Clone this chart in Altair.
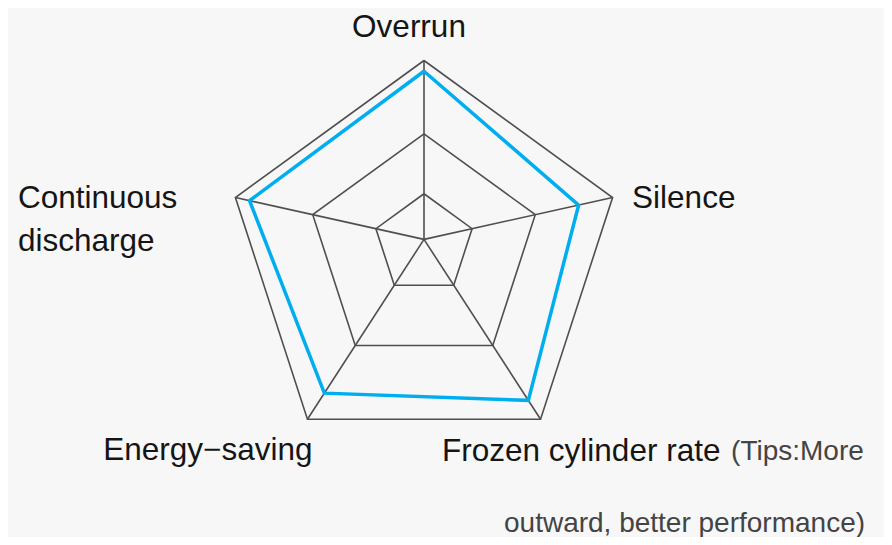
import altair as alt
import numpy as np
import pandas as pd

# ---------------- data ----------------
axis_names = ["Overrun", "Silence", "Frozen cylinder rate", "Energy−saving", "Continuous discharge"]
axis_display = ["Overrun", "Silence", "Frozen cylinder rate", "Energy−saving", "Continuous\ndischarge"]
scores = [94, 82, 89.5, 85.5, 92.5]
grid_levels = [25.5, 59, 100]
max_score = 100
tip_lines = ["(Tips:More", "outward, better performance)"]

# ---------------- layout / style ----------------
W, H = 876, 529
R_PX = 198.3          # outer ring radius in px
CX, CY = 416, 250.8   # centre of outer ring in chart px
HUB = 0.098           # spokes meet slightly above the ring centre

n = len(axis_names)
ang = np.deg2rad(90 - 72 * np.arange(n))
vx, vy = np.cos(ang), np.sin(ang)


def pt(k, v):
    f = v / max_score
    return f * vx[k], HUB + f * (vy[k] - HUB)


rows = []
for lvl in grid_levels:
    for i in range(n + 1):
        k = i % n
        x, y = pt(k, lvl)
        rows.append({"level": str(lvl), "order": i, "x": x, "y": y})
grid_df = pd.DataFrame(rows)

spoke_rows = []
for k in range(n):
    x0, y0 = pt(k, 0)
    x1, y1 = pt(k, max_score)
    spoke_rows.append({"axis": axis_names[k], "x": x0, "y": y0, "x2": x1, "y2": y1})
spoke_df = pd.DataFrame(spoke_rows)

srows = []
for i in range(n + 1):
    k = i % n
    x, y = pt(k, scores[k])
    srows.append({"axis": axis_names[k], "order": i, "score": scores[k], "x": x, "y": y})
series_df = pd.DataFrame(srows)

lab_rows = []
for k in range(n):
    x, y = pt(k, max_score)
    lab_rows.append({"axis": axis_names[k], "label": axis_display[k], "x": x, "y": y})
label_df = pd.DataFrame(lab_rows)

xs = alt.Scale(domain=[-CX / R_PX, (W - CX) / R_PX], nice=False, zero=False)
ys = alt.Scale(domain=[-(H - CY) / R_PX, CY / R_PX], nice=False, zero=False)
X = lambda f="x": alt.X(f"{f}:Q", scale=xs, axis=None)
Y = lambda f="y": alt.Y(f"{f}:Q", scale=ys, axis=None)

GRID = "#4f4f4f"
BLUE = "#00aeef"
FONT = "Liberation Sans"

grid = alt.Chart(grid_df).mark_line(color=GRID, strokeWidth=1.6, strokeJoin="miter").encode(
    x=X(), y=Y(), detail="level:N", order="order:Q"
)
spokes = alt.Chart(spoke_df).mark_rule(color=GRID, strokeWidth=1.6).encode(
    x=X(), y=Y(), x2="x2:Q", y2="y2:Q"
)
series = alt.Chart(series_df).mark_line(color=BLUE, strokeWidth=3.5, strokeJoin="miter").encode(
    x=X(), y=Y(), order="order:Q"
)

label_style = {
    "Overrun": dict(align="center", dx=-15, dy=-24),
    "Silence": dict(align="left", dx=19.5, dy=10),
    "Frozen cylinder rate": dict(align="left", dx=-98.5, dy=41.5),
    "Energy−saving": dict(align="center", dx=-99.5, dy=41),
    "Continuous discharge": dict(align="left", dx=-217.5, dy=10, lineHeight=43.5),
}

layers = [grid, spokes, series]
for name, st in label_style.items():
    layers.append(
        alt.Chart(label_df)
        .transform_filter(alt.datum.axis == name)
        .mark_text(font=FONT, fontSize=31.5, color="#151515", baseline="alphabetic",
                   lineBreak="\n", **st)
        .encode(x=X(), y=Y(), text="label:N")
    )

tip_df = label_df[label_df["axis"] == "Frozen cylinder rate"].copy()
tip_df = pd.concat([tip_df.assign(tip=tip_lines[0], line=0), tip_df.assign(tip=tip_lines[1], line=1)])
tip1 = alt.Chart(tip_df).transform_filter(alt.datum.line == 0).mark_text(
    font=FONT, fontSize=28, color="#444444", baseline="alphabetic", align="left", dx=190.5, dy=41
).encode(x=X(), y=Y(), text="tip:N")
tip2 = alt.Chart(tip_df).transform_filter(alt.datum.line == 1).mark_text(
    font=FONT, fontSize=28, color="#444444", baseline="alphabetic", align="right", dx=324.5, dy=112.5
).encode(x=X(), y=Y(), text="tip:N")
layers += [tip1, tip2]

chart = (
    alt.layer(*layers)
    .properties(width=W, height=H, padding=0, autosize=alt.AutoSizeParams(type="none"),
                background="#f7f7f7")
    .configure_view(stroke=None)
)

chart.save("out.html", embed_options={"renderer": "svg", "actions": False})
